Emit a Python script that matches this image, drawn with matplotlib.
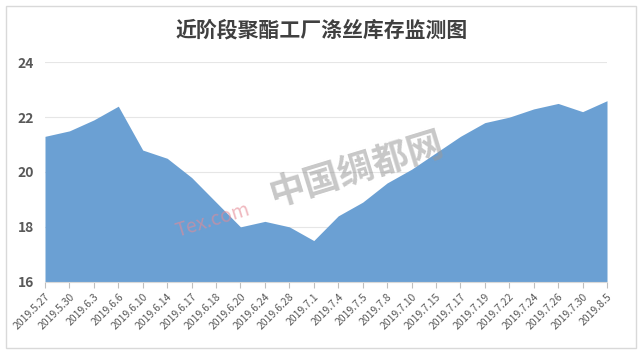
import matplotlib
matplotlib.use("Agg")
import matplotlib.pyplot as plt
from matplotlib.patches import Rectangle

plt.rcParams['font.family'] = ['Noto Sans CJK SC', 'DejaVu Sans']

dates = ['2019.5.27', '2019.5.30', '2019.6.3', '2019.6.6', '2019.6.10', '2019.6.14',
         '2019.6.17', '2019.6.18', '2019.6.20', '2019.6.24', '2019.6.28', '2019.7.1',
         '2019.7.4', '2019.7.5', '2019.7.8', '2019.7.10', '2019.7.15', '2019.7.17',
         '2019.7.19', '2019.7.22', '2019.7.24', '2019.7.26', '2019.7.30', '2019.8.5']
stock = [21.3, 21.5, 21.9, 22.4, 20.8, 20.5, 19.8, 18.9, 18.0, 18.2, 18.0, 17.5,
         18.4, 18.9, 19.6, 20.1, 20.7, 21.3, 21.8, 22.0, 22.3, 22.5, 22.2, 22.6]
yticks = [16, 18, 20, 22, 24]
title = '近阶段聚酯工厂涤丝库存监测图'

fig = plt.figure(figsize=(6.44, 3.56), dpi=100)
fig.patches.append(Rectangle((5.5 / 644, 1 - 348 / 356), 630.5 / 644, 342 / 356,
                             transform=fig.transFigure, fill=False,
                             edgecolor='#d9d9d9', linewidth=1))

ax = fig.add_axes([45 / 644, 1 - 281.7 / 356, 562 / 644, 219.4 / 356])
x = list(range(len(dates)))
ax.fill_between(x, 16, stock, color='#6ba0d3', linewidth=0, zorder=2)

ax.set_xlim(0, len(dates) - 1)
ax.set_ylim(16, 24)
ax.set_yticks(yticks)
ax.set_yticklabels([str(v) for v in yticks], fontsize=10, fontweight='bold', color='#595959')
ax.grid(axis='y', color='#e6e6e6', linewidth=0.8, zorder=0)
ax.set_axisbelow(True)
ax.set_xticks(x)
ax.set_xticklabels(dates, rotation=45, ha='right', rotation_mode='anchor',
                   fontsize=7.5, color='#595959')
ax.tick_params(axis='x', length=4, color='#bfbfbf', pad=3)
ax.tick_params(axis='y', length=0, pad=8)
for s in ['top', 'right', 'left']:
    ax.spines[s].set_visible(False)
ax.spines['bottom'].set_color('#d9d9d9')

fig.text(0.5, 1 - 30 / 356, title, ha='center', va='center', fontsize=15,
         color='#404040', fontweight='bold')

# watermark
fig.text(0.555, 0.52, '中国绸都网', ha='center', va='center', fontsize=26,
         color='#9a9a9a', alpha=0.55, rotation=17, fontweight='bold')
fig.text(0.33, 0.38, 'Tex.com', ha='center', va='center', fontsize=14,
         color='#e58a95', alpha=0.6, rotation=17, style='italic')

fig.savefig('out.png', dpi=100)
